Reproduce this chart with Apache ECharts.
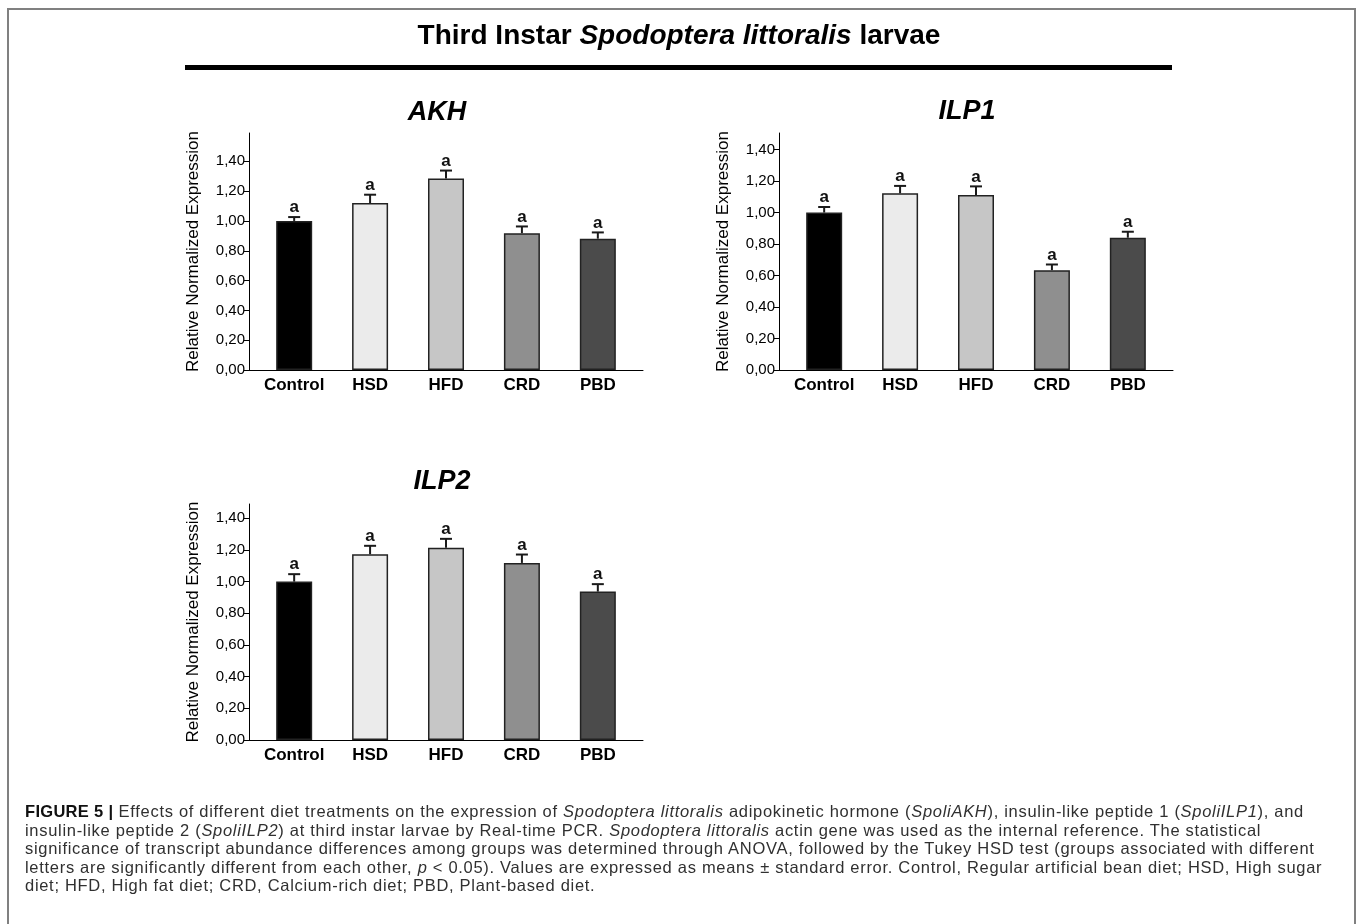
<!DOCTYPE html>
<html>
<head>
<meta charset="utf-8">
<title>Third Instar Spodoptera littoralis larvae</title>
<script src="https://cdn.jsdelivr.net/npm/echarts@6/dist/echarts.min.js"></script>
<style>
  html, body { margin: 0; padding: 0; background: #ffffff; }
  #frame {
    position: absolute; left: 7px; top: 8px; width: 1349px; height: 940px;
    box-sizing: border-box; border: 2px solid #808080; border-bottom: none;
  }
  #chart { position: absolute; left: 0; top: 0; width: 1357px; height: 924px; }
  #caption {
    position: absolute; left: 25px; top: 802px;
    font-family: 'Liberation Sans', Arial, sans-serif; font-size: 16.5px;
    letter-spacing: 0.7px; line-height: 18.6px; color: #303030; white-space: nowrap;
  }
  #caption b { color: #111; letter-spacing: 0.3px; }
</style>
</head>
<body>
<div id="frame"></div>
<div id="chart"></div>
<div id="caption">
  <b>FIGURE 5 |</b> Effects of different diet treatments on the expression of <i>Spodoptera littoralis</i> adipokinetic hormone (<i>SpoliAKH</i>), insulin-like peptide 1 (<i>SpoliILP1</i>), and<br>
  insulin-like peptide 2 (<i>SpoliILP2</i>) at third instar larvae by Real-time PCR. <i>Spodoptera littoralis</i> actin gene was used as the internal reference. The statistical<br>
  significance of transcript abundance differences among groups was determined through ANOVA, followed by the Tukey HSD test (groups associated with different<br>
  letters are significantly different from each other, <i>p</i> &lt; 0.05). Values are expressed as means &plusmn; standard error. Control, Regular artificial bean diet; HSD, High sugar<br>
  diet; HFD, High fat diet; CRD, Calcium-rich diet; PBD, Plant-based diet.
</div>
<script>
  // data
  const categories = ['Control', 'HSD', 'HFD', 'CRD', 'PBD'];
  const yTicks = [0, 0.2, 0.4, 0.6, 0.8, 1.0, 1.2, 1.4];

  const akhMean = [1.00, 1.12, 1.284, 0.918, 0.881];
  const akhSE = [0.026, 0.056, 0.054, 0.045, 0.042];
  const akhLetters = ['a', 'a', 'a', 'a', 'a'];

  const ilp1Mean = [1.00, 1.122, 1.111, 0.634, 0.840];
  const ilp1SE = [0.035, 0.047, 0.055, 0.036, 0.038];
  const ilp1Letters = ['a', 'a', 'a', 'a', 'a'];

  const ilp2Mean = [1.00, 1.173, 1.213, 1.118, 0.937];
  const ilp2SE = [0.047, 0.053, 0.057, 0.053, 0.047];
  const ilp2Letters = ['a', 'a', 'a', 'a', 'a'];

  const barColors = ['#000000', '#ebebeb', '#c6c6c6', '#8f8f8f', '#4b4b4b'];
  const FONT = 'Liberation Sans, Arial, sans-serif';

  const panels = [
    {name: 'AKH', mean: akhMean, se: akhSE, letters: akhLetters,
     grid: {left: 249, top: 133, width: 394, height: 237}, yMax: 1.59, title: [437, 113]},
    {name: 'ILP1', mean: ilp1Mean, se: ilp1SE, letters: ilp1Letters,
     grid: {left: 779, top: 133, width: 394, height: 237}, yMax: 1.505, title: [967, 112]},
    {name: 'ILP2', mean: ilp2Mean, se: ilp2SE, letters: ilp2Letters,
     grid: {left: 249, top: 504, width: 394, height: 236}, yMax: 1.49, title: [442, 482]}
  ];

  let grids = [], xAxes = [], yAxes = [], series = [], graphics = [];

  panels.forEach(function (p, k) {
    grids.push(Object.assign({containLabel: false}, p.grid));
    xAxes.push({
      gridIndex: k, type: 'value', min: -0.595, max: 4.595,
      axisLine: {show: true, onZero: false, lineStyle: {color: '#000', width: 1}},
      axisTick: {show: false},
      splitLine: {show: false},
      axisLabel: {
        customValues: [0, 1, 2, 3, 4],
        formatter: function (v) { return categories[Math.round(v)]; },
        fontSize: 17, fontWeight: 'bold', color: '#000', fontFamily: FONT, margin: 7
      }
    });
    yAxes.push({
      gridIndex: k, type: 'value', min: 0, max: p.yMax, interval: 0.2,
      name: 'Relative Normalized Expression', nameLocation: 'middle', nameGap: 47,
      nameTextStyle: {fontSize: 17, color: '#000', fontFamily: FONT},
      axisLine: {show: true, onZero: false, lineStyle: {color: '#000', width: 1}},
      axisTick: {show: true, length: 5, customValues: yTicks, lineStyle: {color: '#000'}},
      splitLine: {show: false},
      axisLabel: {
        customValues: yTicks,
        formatter: function (v) { return v.toFixed(2).replace('.', ','); },
        fontSize: 15, color: '#000', fontFamily: FONT, margin: 4
      }
    });
    series.push({
      type: 'bar', xAxisIndex: k, yAxisIndex: k, barWidth: 36,
      itemStyle: {borderColor: '#222', borderWidth: 1.5},
      data: p.mean.map(function (v, i) {
        return {value: [i, v], itemStyle: {color: barColors[i]}};
      }),
      silent: true
    });
    series.push({
      type: 'custom', xAxisIndex: k, yAxisIndex: k, z: 5, silent: true,
      encode: {x: 0, y: 1},
      data: p.mean.map(function (v, i) { return [i, v, p.se[i]]; }),
      renderItem: function (params, api) {
        const x = api.value(0), m = api.value(1), se = api.value(2);
        const b = api.coord([x, m]);
        const t = api.coord([x, m + se]);
        return {
          type: 'group',
          children: [
            {type: 'line', shape: {x1: b[0], y1: b[1], x2: t[0], y2: t[1]},
             style: {stroke: '#1a1a1a', lineWidth: 2}},
            {type: 'line', shape: {x1: t[0] - 6, y1: t[1], x2: t[0] + 6, y2: t[1]},
             style: {stroke: '#1a1a1a', lineWidth: 2}},
            {type: 'text', x: t[0], y: t[1] - 1,
             style: {text: p.letters[params.dataIndex], align: 'center', verticalAlign: 'bottom',
                     font: 'bold 17px ' + FONT, fill: '#111'}}
          ]
        };
      }
    });
    graphics.push({
      type: 'text', x: p.title[0], y: p.title[1],
      style: {text: p.name, align: 'center', verticalAlign: 'middle',
              font: 'italic bold 27px ' + FONT, fill: '#000'}
    });
  });

  // main header and rule
  graphics.push({
    type: 'text', x: 679, y: 36,
    style: {
      text: '{n|Third Instar }{i|Spodoptera littoralis}{n| larvae}',
      align: 'center', verticalAlign: 'middle',
      rich: {
        n: {fontSize: 28, fontWeight: 'bold', fontFamily: FONT, color: '#000'},
        i: {fontSize: 28, fontWeight: 'bold', fontStyle: 'italic', fontFamily: FONT, color: '#000'}
      }
    }
  });
  graphics.push({type: 'rect', shape: {x: 185, y: 65, width: 987, height: 5}, style: {fill: '#000'}});

  const myChart = echarts.init(document.getElementById('chart'), null, {renderer: 'canvas'});
  myChart.setOption({
    backgroundColor: 'transparent',
    animation: false,
    grid: grids,
    xAxis: xAxes,
    yAxis: yAxes,
    series: series,
    graphic: graphics
  });
</script>
</body>
</html>
